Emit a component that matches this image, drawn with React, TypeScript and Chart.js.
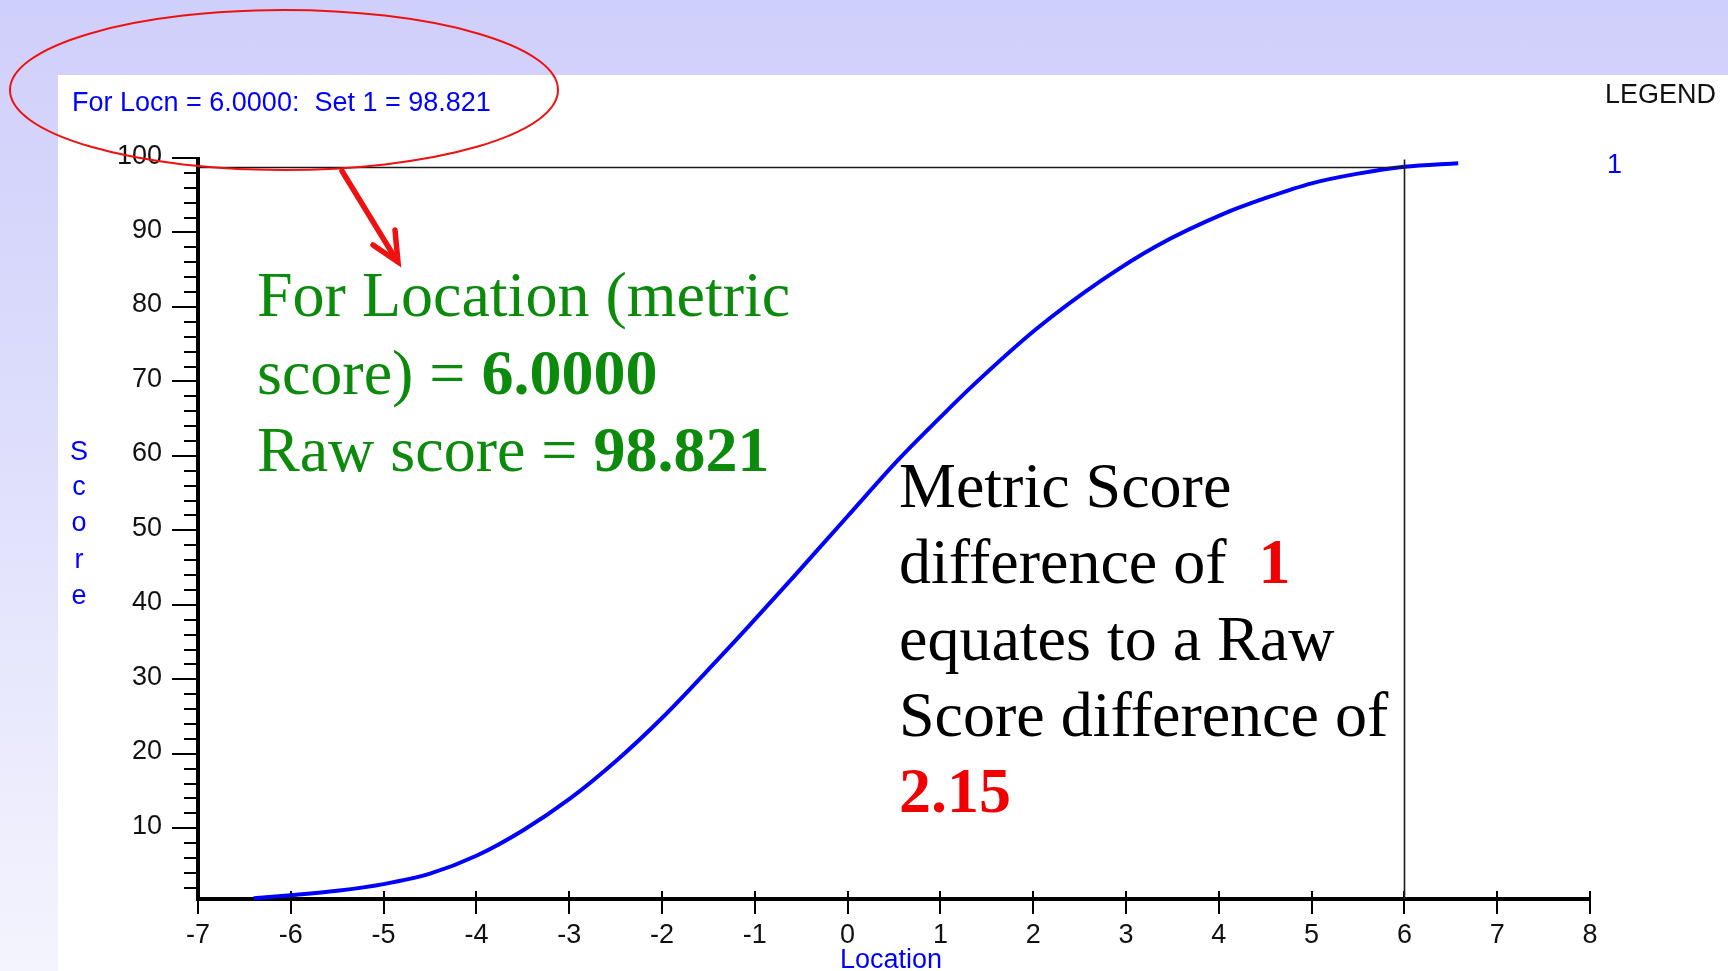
import React, { useEffect, useRef } from "react";
import { Chart, registerables } from "chart.js";

Chart.register(...registerables);

// ---- Data ----
const locations = [-6.4, -6.0, -5.5, -5.0, -4.5, -4.0, -3.5, -3.0, -2.48, -2.0, -1.41, -1.06, -0.58, 0.0, 0.54, 1.0, 1.32, 2.03, 2.74, 3.33, 4.05, 4.5, 5.0, 5.5, 6.0, 6.58];
const scores = [0.6, 1.0, 1.6, 2.5, 3.9, 6.3, 9.7, 13.9, 19.2, 24.8, 32.5, 37.2, 43.8, 51.9, 59.4, 65.2, 69.1, 77.0, 83.6, 88.2, 92.5, 94.6, 96.6, 97.9, 98.821, 99.3];

const xTickLabels = ["-7", "-6", "-5", "-4", "-3", "-2", "-1", "0", "1", "2", "3", "4", "5", "6", "7", "8"];
const yTickLabels = ["10", "20", "30", "40", "50", "60", "70", "80", "90", "100"];
const yMinorStep = 2;

const X_MIN = -7;
const X_MAX = 8;
const Y_MIN = 0.5;
const Y_MAX = 100;

const crossLocation = 6.0;
const crossScore = 98.821;

const TICK_FONT = '27px "Liberation Sans", Arial, sans-serif';

const axesPlugin = {
  id: "customAxes",
  beforeDatasetsDraw(chart: any) {
    const { ctx } = chart;
    const x = chart.scales.x;
    const y = chart.scales.y;
    const x0 = x.getPixelForValue(X_MIN);
    const x1 = x.getPixelForValue(X_MAX);
    const yBot = y.getPixelForValue(Y_MIN);
    const yTop = y.getPixelForValue(Y_MAX);
    ctx.save();
    ctx.strokeStyle = "#000";
    // minor y ticks
    ctx.lineWidth = 2;
    ctx.beginPath();
    for (let v = yMinorStep; v < Y_MAX; v += yMinorStep) {
      if (v % 10 === 0) continue;
      const py = Math.round(y.getPixelForValue(v));
      ctx.moveTo(x0 - 14, py);
      ctx.lineTo(x0, py);
    }
    // major y ticks
    yTickLabels.forEach((lab) => {
      const py = Math.round(y.getPixelForValue(Number(lab)));
      ctx.moveTo(x0 - 26, py);
      ctx.lineTo(x0, py);
    });
    // x ticks
    xTickLabels.forEach((lab) => {
      const px = Math.round(x.getPixelForValue(Number(lab)));
      ctx.moveTo(px, yBot - 8);
      ctx.lineTo(px, yBot + 15);
    });
    ctx.stroke();
    // axis lines
    ctx.lineWidth = 4;
    ctx.beginPath();
    ctx.moveTo(x0, yTop - 1);
    ctx.lineTo(x0, yBot);
    ctx.lineTo(x1 + 1, yBot);
    ctx.stroke();
    // labels
    ctx.fillStyle = "#111";
    ctx.font = TICK_FONT;
    ctx.textAlign = "right";
    ctx.textBaseline = "alphabetic";
    yTickLabels.forEach((lab) => {
      const py = y.getPixelForValue(Number(lab));
      ctx.fillText(lab, x0 - 36, py + 5.5);
    });
    ctx.textAlign = "center";
    xTickLabels.forEach((lab) => {
      const px = x.getPixelForValue(Number(lab));
      ctx.fillText(lab, px, yBot + 44);
    });
    ctx.restore();
  },
  afterDatasetsDraw(chart: any) {
    const { ctx } = chart;
    const x = chart.scales.x;
    const y = chart.scales.y;
    const x0 = x.getPixelForValue(X_MIN);
    const yBot = y.getPixelForValue(Y_MIN);
    const px = Math.round(x.getPixelForValue(crossLocation)) + 0.5;
    const py = Math.round(y.getPixelForValue(crossScore)) + 0.5;
    ctx.save();
    ctx.strokeStyle = "#1a1a1a";
    ctx.lineWidth = 1.6;
    ctx.beginPath();
    ctx.moveTo(x0, py);
    ctx.lineTo(px, py);
    ctx.moveTo(px, py - 8);
    ctx.lineTo(px, yBot);
    ctx.stroke();
    ctx.restore();
  },
};

const serif = '"Liberation Serif", "Times New Roman", serif';
const sans = '"Liberation Sans", Arial, sans-serif';

function Line(props: { left: number; top: number; size: number; color: string; font: string; children: React.ReactNode }) {
  return (
    <div
      style={{
        position: "absolute",
        left: props.left,
        top: props.top,
        fontSize: props.size,
        lineHeight: 1,
        fontFamily: props.font,
        color: props.color,
        whiteSpace: "pre",
      }}
    >
      {props.children}
    </div>
  );
}

export default function App() {
  const canvasRef = useRef<HTMLCanvasElement | null>(null);

  useEffect(() => {
    if (!canvasRef.current) return;
    const data = locations.map((v, i) => ({ x: v, y: scores[i] }));
    const chart = new Chart(canvasRef.current, {
      type: "line",
      data: {
        datasets: [
          {
            label: "1",
            data,
            borderColor: "#0000ff",
            borderWidth: 4,
            pointRadius: 0,
            fill: false,
            cubicInterpolationMode: "monotone",
            clip: false as any,
          },
        ],
      },
      options: {
        responsive: false,
        animation: false,
        events: [],
        layout: { padding: { left: 198, right: 138, top: 158, bottom: 72 } },
        plugins: {
          legend: { display: false },
          tooltip: { enabled: false },
          title: { display: false },
        },
        scales: {
          x: { type: "linear", min: X_MIN, max: X_MAX, display: false },
          y: { type: "linear", min: Y_MIN, max: Y_MAX, display: false },
        },
      },
      plugins: [axesPlugin],
    });
    return () => chart.destroy();
  }, []);

  const green = "#0c8a0c";
  const red = "#f00000";

  return (
    <div
      style={{
        position: "fixed",
        left: 0,
        top: 0,
        width: 1728,
        height: 971,
        overflow: "hidden",
        background: "linear-gradient(to bottom, #cfcffb 0%, #dcdcfc 40%, #f4f4fe 100%)",
      }}
    >
      <div style={{ position: "absolute", left: 58, top: 75, right: 0, bottom: 0, background: "#ffffff" }} />
      <canvas ref={canvasRef} width={1728} height={971} style={{ position: "absolute", left: 0, top: 0, width: 1728, height: 971 }} />

      <Line left={72} top={89} size={27} color="#0000ff" font={sans}>
        {"For Locn = 6.0000:  Set 1 = 98.821"}
      </Line>
      <Line left={1605} top={81} size={27} color="#111" font={sans}>
        LEGEND
      </Line>
      <Line left={1607} top={151} size={27} color="#0000ff" font={sans}>
        1
      </Line>

      {["S", "c", "o", "r", "e"].map((ch, i) => (
        <div
          key={i}
          style={{
            position: "absolute",
            left: 70,
            width: 18,
            textAlign: "center",
            top: [438, 473, 509, 546, 582][i],
            fontSize: 27,
            lineHeight: 1,
            fontFamily: sans,
            color: "#0000ff",
          }}
        >
          {ch}
        </div>
      ))}

      <div
        style={{
          position: "absolute",
          left: 791,
          width: 200,
          textAlign: "center",
          top: 946,
          fontSize: 27,
          lineHeight: 1,
          fontFamily: sans,
          color: "#0000ff",
        }}
      >
        Location
      </div>

      <Line left={257} top={263} size={64} color={green} font={serif}>
        For Location (metric
      </Line>
      <Line left={257} top={341} size={64} color={green} font={serif}>
        {"score) = "}
        <b>6.0000</b>
      </Line>
      <Line left={257} top={418} size={64} color={green} font={serif}>
        {"Raw score = "}
        <b>98.821</b>
      </Line>

      <Line left={899} top={454} size={64} color="#000" font={serif}>
        Metric Score
      </Line>
      <Line left={899} top={530} size={64} color="#000" font={serif}>
        {"difference of  "}
        <b style={{ color: red }}>1</b>
      </Line>
      <Line left={899} top={607} size={64} color="#000" font={serif}>
        equates to a Raw
      </Line>
      <Line left={899} top={683} size={64} color="#000" font={serif}>
        Score difference of
      </Line>
      <Line left={899} top={759} size={64} color={red} font={serif}>
        <b>2.15</b>
      </Line>

      <svg width={1728} height={971} style={{ position: "absolute", left: 0, top: 0, pointerEvents: "none" }}>
        <ellipse cx={284} cy={90} rx={274} ry={80} fill="none" stroke="#ee1111" strokeWidth={2} />
        <line x1={342} y1={171} x2={397} y2={261} stroke="#ee1111" strokeWidth={5.5} strokeLinecap="round" />
        <polyline points="395,230 398,262 373,245" fill="none" stroke="#ee1111" strokeWidth={5.5} strokeLinecap="round" strokeLinejoin="miter" />
      </svg>
    </div>
  );
}
